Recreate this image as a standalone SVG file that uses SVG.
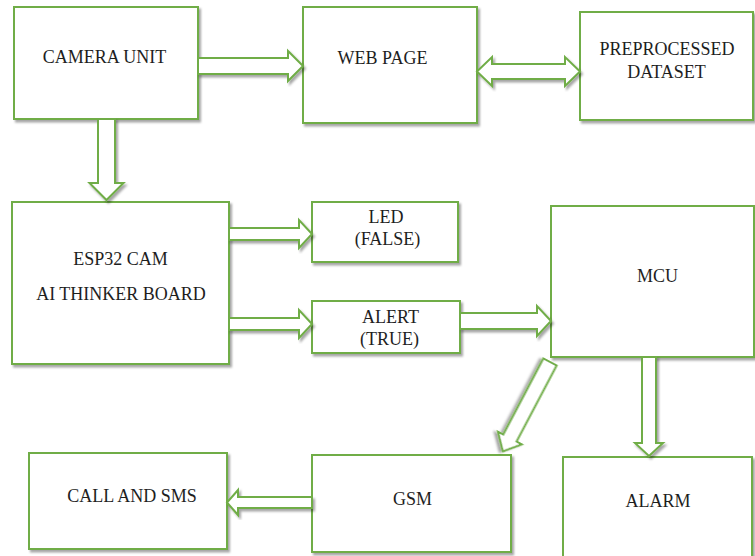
<svg xmlns="http://www.w3.org/2000/svg" width="755" height="556" viewBox="0 0 755 556">
<defs>
<filter id="sh" x="-10%" y="-10%" width="130%" height="130%">
<feDropShadow dx="2" dy="2.5" stdDeviation="1.3" flood-color="#000" flood-opacity="0.35"/>
</filter>
<style>
.box{fill:#fff;stroke:#70AD47;stroke-width:2;filter:url(#sh)}
.arr{fill:#fff;stroke:#70AD47;stroke-width:2;stroke-linejoin:miter;filter:url(#sh)}
.t{font-family:'Liberation Serif','Times New Roman',Times,serif;font-size:18px;fill:#1e1e1e;text-anchor:middle}
</style>
</defs>
<rect width="755" height="556" fill="#fff"/>
<g class="t" font-family="Liberation Serif, serif">
<g id="camera"><rect class="box" x="14" y="7" width="184" height="112"/><text x="104.5" y="63">CAMERA UNIT</text></g>
<g id="webpage"><rect class="box" x="303" y="7" width="174" height="116"/><text x="382.5" y="64">WEB PAGE</text></g>
<g id="dataset"><rect class="box" x="580" y="12" width="173" height="108"/><text x="667" y="55">PREPROCESSED</text><text x="666.5" y="78">DATASET</text></g>
<g id="esp32"><rect class="box" x="12" y="202" width="217" height="162"/><text x="120.5" y="265">ESP32 CAM</text><text x="121" y="300">AI THINKER BOARD</text></g>
<g id="led"><rect class="box" x="312" y="202" width="146" height="60"/><text x="386" y="223">LED</text><text x="387.5" y="245">(FALSE)</text></g>
<g id="alert"><rect class="box" x="312" y="301" width="148" height="52"/><text x="390.5" y="323">ALERT</text><text x="389.5" y="345">(TRUE)</text></g>
<g id="mcu"><rect class="box" x="551" y="206" width="203" height="151"/><text x="657.5" y="282">MCU</text></g>
<g id="callsms"><rect class="box" x="29" y="453" width="198" height="96"/><text x="132" y="502">CALL AND SMS</text></g>
<g id="gsm"><rect class="box" x="312" y="455" width="199" height="97"/><text x="412.5" y="505">GSM</text></g>
<g id="alarm"><rect class="box" x="563" y="457" width="189" height="103"/><text x="658" y="507">ALARM</text></g>
</g>
<g id="connectors">
<polygon class="arr" points="198,58 288,58 288,51 303,66 288,81 288,74 198,74"/>
<polygon class="arr" points="477,71.5 492,57 492,64 565,64 565,57 580,71.5 565,86 565,79 492,79 492,86"/>
<polygon class="arr" points="98,119 115,119 115,183 123.5,183 106.5,200 89.5,183 98,183"/>
<polygon class="arr" points="229,228 299,228 299,220 312,234 299,248 299,240 229,240"/>
<polygon class="arr" points="229,318 299,318 299,310 312,324 299,338 299,330 229,330"/>
<polygon class="arr" points="460,313 537,313 537,306 551,321 537,336 537,329 460,329"/>
<polygon class="arr" points="642,357 656,357 656,443 663,443 649,456 635,443 642,443"/>
<polygon class="arr" points="312,497 238,497 238,490 227,502.5 238,515 238,508 312,508"/>
<polygon class="arr" transform="translate(550,362) rotate(117.8)" points="0,-7.5 86,-7.5 86,-13.5 101,0 86,13.5 86,7.5 0,7.5"/>
</g>
</svg>
